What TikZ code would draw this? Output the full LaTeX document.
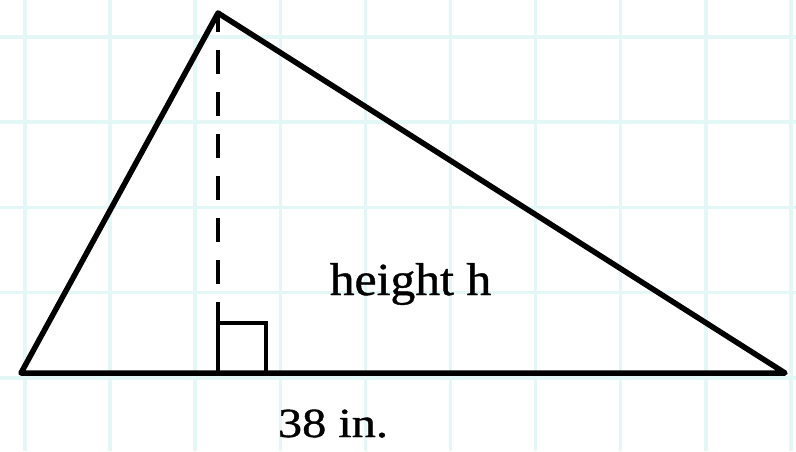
\documentclass[tikz,border=0pt]{standalone}
\usepackage{fontspec}
\setmainfont{Liberation Serif}
\newfontfamily\lblfont[FakeBold=0.9]{Liberation Serif}
\definecolor{gridcyan}{RGB}{226,247,246}
\tikzset{
  gridline/.style={draw=gridcyan, line width=3.5pt},
  edge/.style={draw=black, line width=5.5pt, line join=round, line cap=round},
  altitude/.style={draw=black, line width=4pt, dash pattern=on 24pt off 18pt, dash phase=5pt},
  rightmark/.style={draw=black, line width=4pt},
  lbl/.style={inner sep=0pt, anchor=base, font=\lblfont\fontsize{46}{50}\selectfont}
}
\begin{document}
\begin{tikzpicture}[x=1pt, y=-1pt]
  \useasboundingbox (0,0) rectangle (796,451);
  \fill[white] (0,0) rectangle (796,451);
  % grid
  \foreach \gx in {25,110.1,195.2,280.3,365.4,450.5,535.6,620.7,705.8,790.9}
    \draw[gridline] (\gx,0) -- (\gx,451);
  \foreach \gy in {37,122.2,207.4,292.6,377.8}
    \draw[gridline] (0,\gy) -- (796,\gy);
  % triangle
  \coordinate (A) at (21,373);
  \coordinate (B) at (218,13);
  \coordinate (C) at (785,373);
  \coordinate (D) at (218,373);
  \coordinate (S) at (218,323);
  \coordinate (T) at (266,373);
  \draw[altitude] (B) -- (S);
  \draw[rightmark] (S) rectangle (T);
  \draw[edge] (A) -- (B) -- (C) -- cycle;
  % labels
  \node[lbl] (hlabel) at (410.5,295) {\scalebox{1.08}[1]{height h}};
  \node[lbl] (blabel) at (333,437) {\scalebox{1.05}[0.9]{38 in.}};
\end{tikzpicture}
\end{document}
